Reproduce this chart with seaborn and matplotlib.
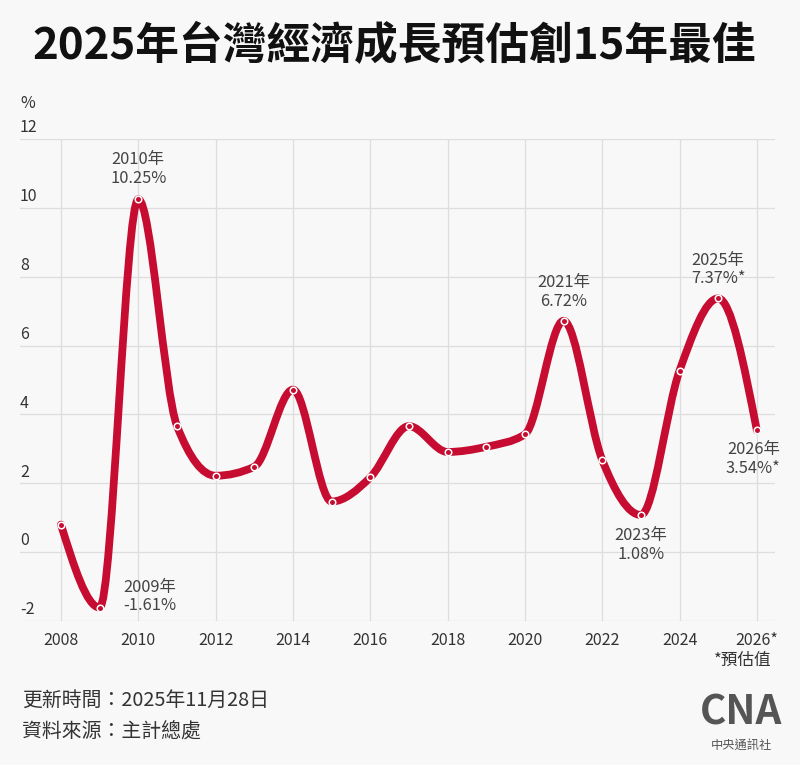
import numpy as np
import pandas as pd
import matplotlib.pyplot as plt
import seaborn as sns
from matplotlib.path import Path
from matplotlib.patches import PathPatch

# GDP growth, %
years = [2008, 2009, 2010, 2011, 2012, 2013, 2014, 2015, 2016, 2017,
         2018, 2019, 2020, 2021, 2022, 2023, 2024, 2025, 2026]
growth = [0.80, -1.61, 10.25, 3.67, 2.22, 2.48, 4.72, 1.47, 2.17, 3.66,
          2.91, 3.06, 3.42, 6.72, 2.68, 1.08, 5.27, 7.37, 3.54]
x_ticks = [2008, 2010, 2012, 2014, 2016, 2018, 2020, 2022, 2024, 2026]
x_labels = ["2008", "2010", "2012", "2014", "2016", "2018", "2020", "2022", "2024", "2026*"]
y_ticks = [-2, 0, 2, 4, 6, 8, 10, 12]

# labelled points: year, text, alignment, offset in points
notes = [
    (2009, "2009年\n-1.61%", "left", "center", (17, 8)),
    (2010, "2010年\n10.25%", "center", "bottom", (0, 9)),
    (2021, "2021年\n6.72%", "center", "bottom", (0, 8)),
    (2023, "2023年\n1.08%", "center", "top", (0, -9)),
    (2025, "2025年\n7.37%*", "center", "bottom", (0, 8)),
    (2026, "2026年\n3.54%*", "right", "top", (17, -8)),
]

df = pd.DataFrame({"year": years, "growth": growth})

sns.set_theme(style="whitegrid")
plt.rcParams["font.family"] = ["Noto Sans CJK TC", "DejaVu Sans"]

bg = "#f8f8f8"
red = "#c60c30"
fig = plt.figure(figsize=(8, 7.65), dpi=100, facecolor=bg)
ax = fig.add_axes([20 / 800, 1 - 621 / 765, 755 / 800, 482 / 765])
ax.set_facecolor(bg)


def monotone_path(xs, ys):
    # d3 curveMonotoneX as cubic bezier segments
    xs = np.asarray(xs, float)
    ys = np.asarray(ys, float)
    n = len(xs)
    h = np.diff(xs)
    s = np.diff(ys) / h
    t = np.zeros(n)
    for i in range(1, n - 1):
        p = (s[i - 1] * h[i] + s[i] * h[i - 1]) / (h[i - 1] + h[i])
        t[i] = (np.sign(s[i - 1]) + np.sign(s[i])) * min(abs(s[i - 1]), abs(s[i]), 0.5 * abs(p))
    t[0] = (3 * s[0] - t[1]) / 2
    t[-1] = (3 * s[-1] - t[-2]) / 2
    verts = [(xs[0], ys[0])]
    codes = [Path.MOVETO]
    for i in range(n - 1):
        dx = (xs[i + 1] - xs[i]) / 3
        verts += [(xs[i] + dx, ys[i] + dx * t[i]),
                  (xs[i + 1] - dx, ys[i + 1] - dx * t[i + 1]),
                  (xs[i + 1], ys[i + 1])]
        codes += [Path.CURVE4] * 3
    return Path(verts, codes)


ax.add_patch(PathPatch(monotone_path(df["year"], df["growth"]), facecolor="none",
                       edgecolor=red, lw=5.6, capstyle="round", joinstyle="round", zorder=3))
sns.scatterplot(data=df, x="year", y="growth", ax=ax, s=22, color=red,
                edgecolor="white", linewidth=1.1, zorder=4, legend=False)

ax.set_xlim(2006.94, 2026.47)
ax.set_ylim(-2, 12)
ax.set_xticks(x_ticks)
ax.set_xticklabels(x_labels, fontsize=11.5, color="#333333")
ax.set_yticks(y_ticks)
ax.set_yticklabels([])
ax.tick_params(axis="y", length=0)
ax.tick_params(axis="x", length=0, pad=8)
ax.grid(True, color="#dddddd", lw=0.9)
ax.set_xlabel("")
ax.set_ylabel("")
for sp in ax.spines.values():
    sp.set_visible(False)

for v in y_ticks:
    ax.annotate(str(v), (0, v), xycoords=ax.get_yaxis_transform(), xytext=(0, 2),
                textcoords="offset points", ha="left", va="bottom", fontsize=11.5, color="#333333")

for yr, txt, ha, va, off in notes:
    val = growth[years.index(yr)]
    ax.annotate(txt, (yr, val), xytext=off, textcoords="offset points", ha=ha, va=va,
                fontsize=11.8, color="#444444", linespacing=1.1, annotation_clip=False)

fig.text(0.493, 0.94, "2025年台灣經濟成長預估創15年最佳", ha="center", va="center",
         fontsize=31.5, fontweight="bold", color="#111111")
fig.text(20 / 800, 1 - 103 / 765, "%", ha="left", va="center", fontsize=11.5, color="#333333")
fig.text(772 / 800, 1 - 660 / 765, "*預估值", ha="right", va="center", fontsize=12, color="#333333")
fig.text(22 / 800, 1 - 700 / 765, "更新時間：2025年11月28日", ha="left", va="center",
         fontsize=14.3, color="#333333")
fig.text(22 / 800, 1 - 731 / 765, "資料來源：主計總處", ha="left", va="center",
         fontsize=14.3, color="#333333")
fig.text(741 / 800, 1 - 713 / 765, "CNA", ha="center", va="center", fontsize=29,
         fontweight="heavy", color="#555555")
fig.text(741 / 800, 1 - 746 / 765, "中央通訊社", ha="center", va="center", fontsize=8.8,
         color="#555555")

fig.savefig("out.png", dpi=100, facecolor=bg)
